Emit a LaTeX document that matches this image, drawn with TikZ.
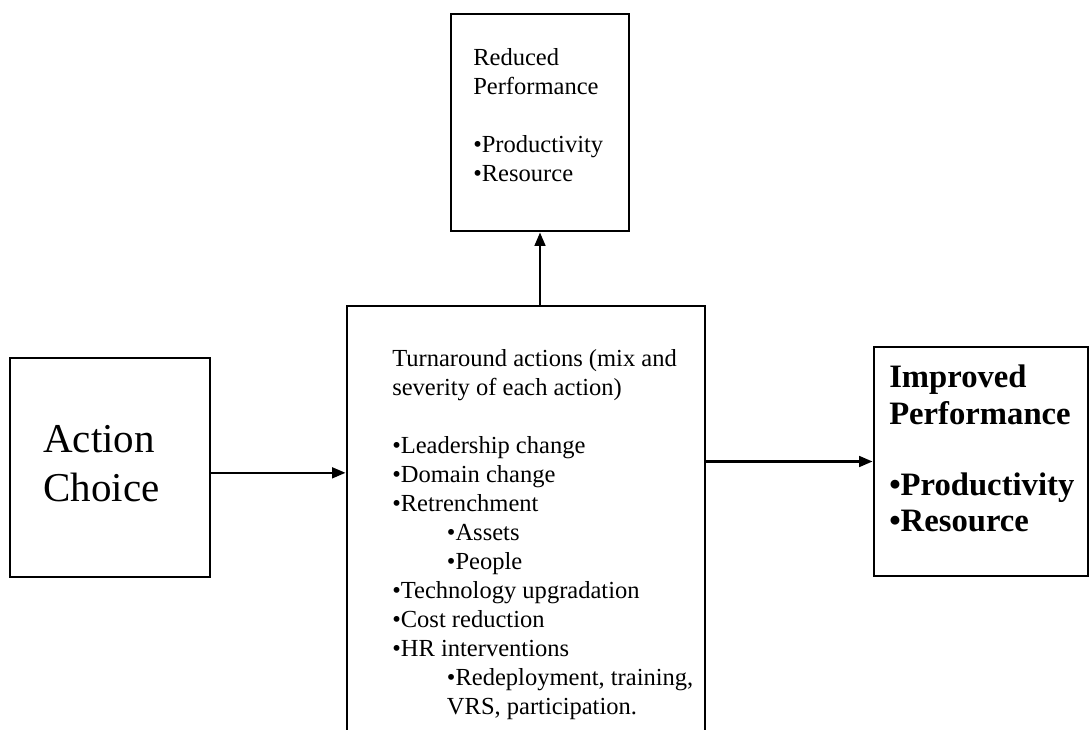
\documentclass[tikz,border=0pt]{standalone}
\usepackage{fontspec}
\setmainfont{Liberation Serif}
\usetikzlibrary{arrows.meta,positioning}

%% sizes (1 unit = 1 px of the page)
\def\tatSubInd{41pt}
\def\tatBodyFont{\fontsize{18.4}{21.7}\selectfont}
\def\tatBigFont{\fontsize{24.5}{27}\selectfont\bfseries}
\def\tatHugeFont{\fontsize{30.75}{36.75}\selectfont}

\tikzset{
  tatbox/.style = {draw, line width = 2.2pt, inner sep = 0pt},
  %% base of a multi-line node = baseline of its last line
  tattext/.style = {anchor = base west, inner sep = 0pt, align = left},
  tatarrow/.style = {line width = 1.7pt, -{Triangle[length = 10pt, width = 8pt]}}
}

\begin{document}
\begin{tikzpicture}[x = 0.75pt, y = -0.75pt]
            \fill [white] (0,0) rectangle (1092,730);
            \clip (0,0) rectangle (1092,730);
            %% boxes
            \node [tatbox, minimum width = 150pt, minimum height = 164.25pt]
            (actbox) at (110,467.5) {};
            \node [tatbox, minimum width = 268.5pt, minimum height = 329.25pt]
            (turnbox) at (526,525.5) {};
            \node [tatbox, minimum width = 133.5pt, minimum height = 162.75pt]
            (redbox) at (540,122.5) {};
            \node [tatbox, minimum width = 160.5pt, minimum height = 171.75pt]
            (impbox) at (981,461.5) {};
            %% texts
            \node [tattext, font = \tatHugeFont] (acttxt) at (43,502)
            {Action\\Choice};
            \node [tattext, font = \tatBodyFont] (redtxt) at (473,181.7)
            {Reduced\\Performance\\[21.7pt]%
            •Productivity\\•Resource};
            \node [tattext, font = \tatBodyFont] (turntxt) at (392,714)
            {Turnaround actions (mix and\\severity of each action)\\[21.7pt]%
            •Leadership change\\•Domain change\\•Retrenchment\\
            \hspace*{\tatSubInd}•Assets\\\hspace*{\tatSubInd}•People\\
            •Technology upgradation\\•Cost reduction\\•HR interventions\\
            \hspace*{\tatSubInd}•Redeployment, training,\\
            \hspace*{\tatSubInd}VRS, participation.};
            \node [tattext, font = \tatBigFont] (imptxt) at (889,532)
            {Improved\\Performance\\[27pt]%
            •Productivity\\•Resource};
            %% connectors
            \draw [tatarrow] ([yshift = -4pt]actbox.east)
            -- ([yshift = -4pt]actbox.east -| turnbox.west);
            \draw [tatarrow] (impbox.west -| turnbox.east) -- (impbox.west);
            \draw [tatarrow] (redbox.south |- turnbox.north) -- (redbox.south);
\end{tikzpicture}
\end{document}
